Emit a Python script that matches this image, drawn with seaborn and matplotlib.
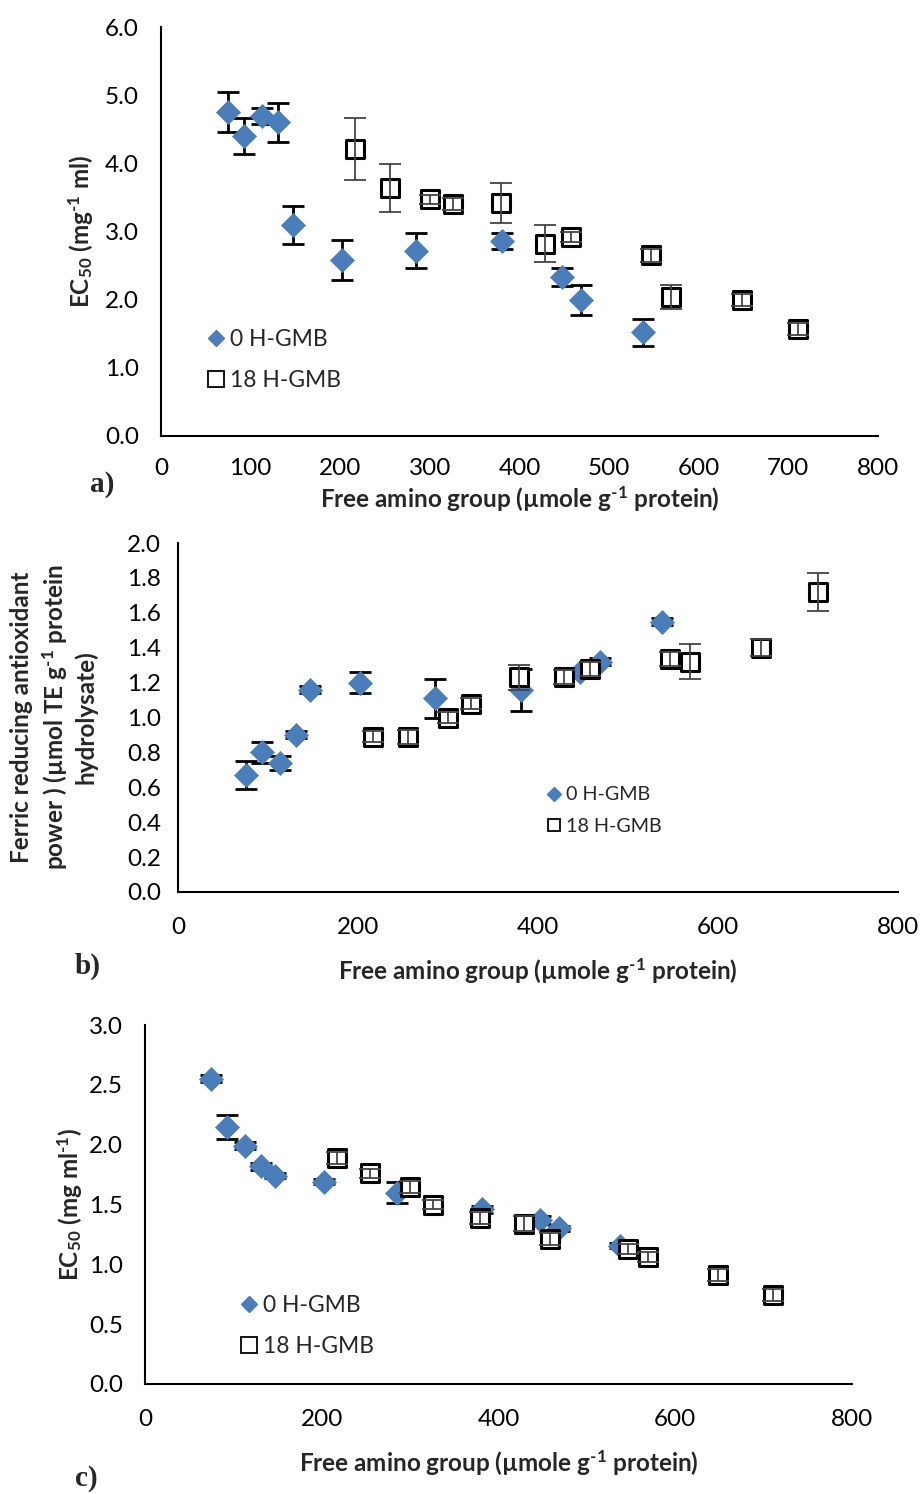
import numpy as np
import pandas as pd
import matplotlib
matplotlib.use("Agg")
import matplotlib.pyplot as plt
import matplotlib.transforms as mtransforms
import seaborn as sns
from matplotlib.lines import Line2D

sns.set_style("white")
plt.rcParams["font.family"] = ["Lato", "DejaVu Sans"]
plt.rcParams["mathtext.fontset"] = "custom"
plt.rcParams["mathtext.rm"] = "Lato"
plt.rcParams["mathtext.bf"] = "Lato:bold"
plt.rcParams["mathtext.it"] = "Lato:italic"

# Free amino group content (µmole g-1 protein) for each hydrolysate series
x_0h = [75, 93, 113, 131, 147, 202, 285, 381, 447, 469, 538]
x_18h = [217, 255, 300, 326, 379, 429, 458, 547, 569, 648, 711]

# a) EC50 (mg-1 ml)
a_y0 = [4.75, 4.40, 4.69, 4.60, 3.09, 2.58, 2.72, 2.86, 2.33, 1.99, 1.52]
a_e0 = [0.29, 0.26, 0.12, 0.28, 0.28, 0.29, 0.26, 0.12, 0.13, 0.22, 0.20]
a_y18 = [4.21, 3.64, 3.47, 3.40, 3.42, 2.82, 2.92, 2.65, 2.04, 2.00, 1.57]
a_e18 = [0.46, 0.35, 0.07, 0.09, 0.29, 0.27, 0.08, 0.10, 0.18, 0.09, 0.09]

# b) Ferric reducing antioxidant power
b_y0 = [0.67, 0.80, 0.74, 0.90, 1.16, 1.20, 1.11, 1.16, 1.26, 1.32, 1.55]
b_e0 = [0.08, 0.06, 0.04, 0.02, 0.02, 0.06, 0.11, 0.12, 0.02, 0.02, 0.02]
b_y18 = [0.89, 0.89, 1.00, 1.08, 1.23, 1.23, 1.28, 1.335, 1.32, 1.40, 1.72]
b_e18 = [0.03, 0.04, 0.03, 0.03, 0.07, 0.04, 0.04, 0.04, 0.10, 0.05, 0.11]

# c) EC50 (mg ml-1)
c_y0 = [2.55, 2.15, 1.99, 1.82, 1.74, 1.69, 1.60, 1.46, 1.37, 1.30, 1.155]
c_e0 = [0.03, 0.10, 0.03, 0.03, 0.02, 0.02, 0.09, 0.03, 0.03, 0.02, 0.02]
c_y18 = [1.89, 1.76, 1.65, 1.50, 1.39, 1.34, 1.21, 1.13, 1.06, 0.91, 0.745]
c_e18 = [0.05, 0.04, 0.05, 0.04, 0.05, 0.06, 0.05, 0.04, 0.04, 0.05, 0.05]

labels = ["0 H-GMB", "18 H-GMB"]
BLUE = "#4a7ebb"
SUP = "$^{\\mathbf{\u2010}\\mathbf{1}}$"
XLABEL = "Free amino group (µmole g" + SUP + " protein)"
LABEL_SIZE = 17.5
TICK_SIZE = 17.5

fig = plt.figure(figsize=(9.23, 14.94), dpi=100)
W, H = 923, 1494


def add_axes(left, right, top, bottom):
    return fig.add_axes([left / W, 1 - bottom / H, (right - left) / W, (bottom - top) / H])


def draw_panel(ax, y0, e0, y18, e18):
    df0 = pd.DataFrame({"x": x_0h, "y": y0, "series": labels[0]})
    df18 = pd.DataFrame({"x": x_18h, "y": y18, "series": labels[1]})
    ax.errorbar(df0["x"], df0["y"], yerr=e0, fmt="none", ecolor="black",
                elinewidth=2.0, capsize=8, capthick=2.0, zorder=2)
    sns.scatterplot(data=df0, x="x", y="y", marker="D", s=150, color=BLUE,
                    edgecolor=BLUE, linewidth=0.5, ax=ax, zorder=3, legend=False)
    sns.scatterplot(data=df18, x="x", y="y", marker="s", s=185, color="white",
                    edgecolor="black", linewidth=2.2, ax=ax, zorder=4, legend=False)
    ax.errorbar(df18["x"], df18["y"], yerr=e18, fmt="none", ecolor="#444444",
                elinewidth=1.3, capsize=8, capthick=1.3, zorder=5)
    for side in ["top", "right"]:
        ax.spines[side].set_visible(False)
    for side in ["left", "bottom"]:
        ax.spines[side].set_linewidth(1.5)
        ax.spines[side].set_color("black")
    ax.tick_params(axis="both", direction="out", length=5, width=1.5,
                   colors="black", labelsize=TICK_SIZE)
    ax.set_xlabel("")
    ax.set_ylabel("")


def set_ylabel_px(ax, text, right_px, **kw):
    ax.set_ylabel(text, fontsize=LABEL_SIZE, fontweight="bold", **kw)
    trans = mtransforms.blended_transform_factory(fig.transFigure, ax.transAxes)
    ax.yaxis.set_label_coords(right_px / W, 0.5, transform=trans)


def legend(ax, anchor, msize, fsize, spacing):
    handles = [
        Line2D([], [], marker="D", linestyle="none", markersize=msize * 0.75,
               markerfacecolor=BLUE, markeredgecolor=BLUE),
        Line2D([], [], marker="s", linestyle="none", markersize=msize,
               markerfacecolor="white", markeredgecolor="black", markeredgewidth=1.3),
    ]
    ax.legend(handles, labels, loc="upper left", bbox_to_anchor=anchor,
              frameon=False, fontsize=fsize, handlelength=0.6,
              handletextpad=0.3, labelspacing=spacing, borderaxespad=0)


def panel_tag(text, x_px, y_px):
    fig.text(x_px / W, 1 - y_px / H, text, fontsize=21, fontweight="bold",
             family="Liberation Serif", va="center")


# ---- a) ----
ax_a = add_axes(161, 878, 27, 436)
draw_panel(ax_a, a_y0, a_e0, a_y18, a_e18)
ax_a.set_xlim(0, 800)
ax_a.set_ylim(0, 6)
ax_a.set_xticks(np.arange(0, 801, 100))
ax_a.set_yticks(np.arange(0, 6.01, 1.0))
ax_a.set_yticklabels([f"{v:.1f}" for v in np.arange(0, 6.01, 1.0)])
ax_a.tick_params(axis="x", pad=11)
ax_a.tick_params(axis="y", pad=11)
set_ylabel_px(ax_a, "EC$_{\\mathbf{50}}$ (mg" + SUP + " ml)", 95)
ax_a.set_xlabel(XLABEL, fontsize=LABEL_SIZE, fontweight="bold")
ax_a.xaxis.set_label_coords(0.5, -0.118)
legend(ax_a, (0.055, 0.283), 11.5, 16.5, 0.85)
panel_tag("a)", 90, 484)

# ---- b) ----
ax_b = add_axes(178, 898, 543, 892)
draw_panel(ax_b, b_y0, b_e0, b_y18, b_e18)
ax_b.set_xlim(0, 800)
ax_b.set_ylim(0, 2.0)
ax_b.set_xticks(np.arange(0, 801, 200))
ax_b.set_yticks(np.arange(0, 2.01, 0.2))
ax_b.set_yticklabels([f"{v:.1f}" for v in np.arange(0, 2.01, 0.2)])
ax_b.tick_params(axis="x", pad=13)
ax_b.tick_params(axis="y", pad=7)
set_ylabel_px(ax_b, "Ferric reducing antioxidant\npower ) (µmol TE g" + SUP + " protein\nhydrolysate)",
              98, linespacing=1.3)
ax_b.set_xlabel(XLABEL, fontsize=LABEL_SIZE, fontweight="bold")
ax_b.xaxis.set_label_coords(0.5, -0.183)
legend(ax_b, (0.503, 0.325), 9, 14.2, 0.75)
panel_tag("b)", 75, 966)

# ---- c) ----
ax_c = add_axes(145, 852, 1025, 1384)
draw_panel(ax_c, c_y0, c_e0, c_y18, c_e18)
ax_c.set_xlim(0, 800)
ax_c.set_ylim(0, 3.0)
ax_c.set_xticks(np.arange(0, 801, 200))
ax_c.set_yticks(np.arange(0, 3.01, 0.5))
ax_c.set_yticklabels([f"{v:.1f}" for v in np.arange(0, 3.01, 0.5)])
ax_c.tick_params(axis="x", pad=13)
ax_c.tick_params(axis="y", pad=11)
set_ylabel_px(ax_c, "EC$_{\\mathbf{50}}$ (mg ml" + SUP + ")", 84)
ax_c.set_xlabel(XLABEL, fontsize=LABEL_SIZE, fontweight="bold")
ax_c.xaxis.set_label_coords(0.5, -0.178)
legend(ax_c, (0.125, 0.273), 11.5, 16.5, 0.85)
panel_tag("c)", 75, 1478)

fig.savefig("out.png", dpi=100, facecolor="white")
